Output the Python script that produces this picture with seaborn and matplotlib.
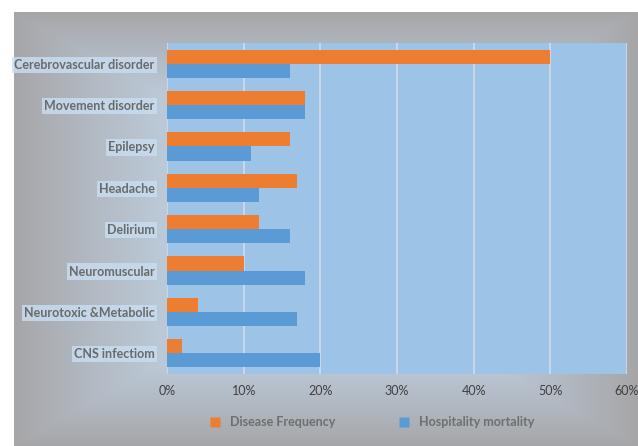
import numpy as np
import pandas as pd
import matplotlib
matplotlib.use("Agg")
import matplotlib.pyplot as plt
from matplotlib.lines import Line2D
import seaborn as sns

categories = ["Cerebrovascular disorder", "Movement disorder", "Epilepsy", "Headache",
              "Delirium", "Neuromuscular", "Neurotoxic &Metabolic", "CNS infectiom"]
disease_frequency = [50, 18, 16, 17, 12, 10, 4, 2]
hospitality_mortality = [16, 18, 11, 12, 16, 18, 17, 20]
series_names = ["Disease Frequency", "Hospitality mortality"]
x_ticks = [0, 10, 20, 30, 40, 50, 60]

df = pd.DataFrame({
    "category": categories * 2,
    "value": disease_frequency + hospitality_mortality,
    "series": [series_names[0]] * len(categories) + [series_names[1]] * len(categories),
})

sns.set_theme(style="white")
plt.rcParams["font.family"] = ["Lato", "DejaVu Sans"]

W, H = 638, 446
fig = plt.figure(figsize=(W / 100, H / 100), dpi=100)
fig.patch.set_facecolor("white")

# gradient frame behind the chart (grey edges, light blue centre)
bg = fig.add_axes([14 / W, 0, 1 - 14 / W, 1 - 12 / H])
bg.set_axis_off()
yy, xx = np.mgrid[0:1:200j, 0:1:300j]
dx = np.clip(np.minimum(xx, 1 - xx) / 0.38, 0, 1)
dy = np.clip(np.minimum(yy, 1 - yy) / 0.3, 0, 1)
t = np.minimum(dx, dy) ** 0.9
grey = np.array([0.65, 0.65, 0.66])
light = np.array([0.78, 0.86, 0.94])
img = grey[None, None, :] * (1 - t[..., None]) + light[None, None, :] * t[..., None]
bg.imshow(img, aspect="auto", extent=[0, 1, 0, 1])

ax = fig.add_axes([167 / W, 1 - 374 / H, (627 - 167) / W, (374 - 43) / H])
ax.set_facecolor("#9dc3e6")
sns.barplot(data=df, y="category", x="value", hue="series", orient="h",
            palette=["#ed7d31", "#5b9bd5"], width=0.68, saturation=1,
            order=categories, hue_order=series_names, ax=ax, legend=False,
            linewidth=0, edgecolor="none")

ax.set_xlim(0, 60)
ax.set_xticks(x_ticks)
ax.set_xticklabels([f"{v}%" for v in x_ticks], color="#404040", fontsize=9)
ax.xaxis.grid(True, color="#d0dcea", linewidth=1.2)
ax.set_axisbelow(True)
ax.set_xlabel("")
ax.set_ylabel("")
for s in ax.spines.values():
    s.set_visible(False)
ax.tick_params(axis="both", length=0)
ax.tick_params(axis="x", pad=8)
ax.tick_params(axis="y", pad=9)
for lab in ax.get_yticklabels():
    lab.set_fontsize(9)
    lab.set_fontweight("bold")
    lab.set_color("#6a6a6a")
    lab.set_bbox(dict(facecolor="#c9def2", edgecolor="none", pad=1.5, alpha=0.8))

handles = [Line2D([0], [0], marker="s", linestyle="none", markersize=7,
                  markerfacecolor=c, markeredgecolor="none")
           for c in ["#ed7d31", "#5b9bd5"]]
leg = fig.legend(handles, series_names, loc="center", bbox_to_anchor=(368 / W, 1 - 422 / H),
                 ncol=2, frameon=False, columnspacing=4.5, handletextpad=0.2,
                 prop={"weight": "bold", "size": 9})
for txt in leg.get_texts():
    txt.set_color("#6f6f6f")

fig.savefig("out.png", dpi=100)
